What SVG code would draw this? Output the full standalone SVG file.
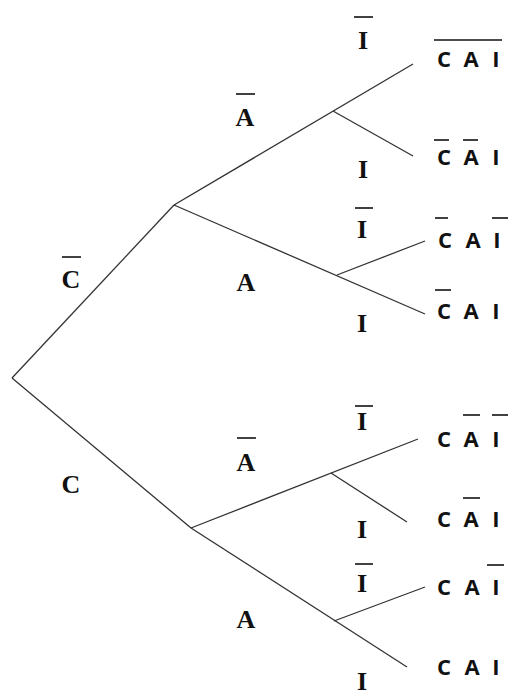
<svg xmlns="http://www.w3.org/2000/svg" width="512" height="700" viewBox="0 0 512 700">
<style>
.edge{stroke:#333;stroke-width:1.3;fill:none}
.bar{stroke:#111;stroke-width:1.6}
.lbl{font-family:"Liberation Serif","Times New Roman",serif;font-weight:bold;font-size:26px;fill:#111;text-anchor:middle}
.out{font-family:"Open Sans","Liberation Sans",sans-serif;font-weight:bold;font-size:22px;fill:#111;text-anchor:middle}
</style>
<rect width="512" height="700" fill="#fff"/>
<g id="connectors">
<line class="edge" x1="12" y1="378" x2="174" y2="205"/>
<line class="edge" x1="12" y1="378" x2="191" y2="528"/>
<line class="edge" x1="174" y1="205" x2="413" y2="64"/>
<line class="edge" x1="333" y1="111" x2="413" y2="156"/>
<line class="edge" x1="174" y1="205" x2="425" y2="314"/>
<line class="edge" x1="337" y1="275" x2="425" y2="241"/>
<line class="edge" x1="191" y1="528" x2="418" y2="439"/>
<line class="edge" x1="331" y1="473" x2="407" y2="522"/>
<line class="edge" x1="191" y1="528" x2="407" y2="667"/>
<line class="edge" x1="334" y1="621" x2="425" y2="587"/>
</g>
<g id="label-Cbar"><text class="lbl" x="71" y="288">C</text><line class="bar" x1="62" y1="257" x2="81" y2="257"/></g>
<g id="label-C"><text class="lbl" x="71" y="493">C</text></g>
<g id="label-Abar-1"><text class="lbl" x="245" y="126">A</text><line class="bar" x1="236" y1="94" x2="255" y2="94"/></g>
<g id="label-A-1"><text class="lbl" x="246" y="291">A</text></g>
<g id="label-Abar-2"><text class="lbl" x="246" y="471">A</text><line class="bar" x1="237" y1="438" x2="256" y2="438"/></g>
<g id="label-A-2"><text class="lbl" x="246" y="628">A</text></g>
<g id="label-Ibar-1"><text class="lbl" x="363" y="49">I</text><line class="bar" x1="354" y1="17" x2="373" y2="17"/></g>
<g id="label-I-1"><text class="lbl" x="363" y="178">I</text></g>
<g id="label-Ibar-2"><text class="lbl" x="362" y="238">I</text><line class="bar" x1="355" y1="208" x2="373" y2="208"/></g>
<g id="label-I-2"><text class="lbl" x="362" y="332">I</text></g>
<g id="label-Ibar-3"><text class="lbl" x="362" y="430">I</text><line class="bar" x1="355" y1="406" x2="373" y2="406"/></g>
<g id="label-I-3"><text class="lbl" x="362" y="538">I</text></g>
<g id="label-Ibar-4"><text class="lbl" x="362" y="592">I</text><line class="bar" x1="355" y1="564" x2="373" y2="564"/></g>
<g id="label-I-4"><text class="lbl" x="362" y="690">I</text></g>
<g id="out-1"><text class="out" y="67"><tspan x="444">C</tspan><tspan x="471">A</tspan><tspan x="496">I</tspan></text><line class="bar" x1="434" y1="40" x2="502" y2="40"/></g>
<g id="out-2"><text class="out" y="165"><tspan x="444">C</tspan><tspan x="471">A</tspan><tspan x="496">I</tspan></text><line class="bar" x1="434" y1="140" x2="449" y2="140"/><line class="bar" x1="463" y1="140" x2="478" y2="140"/></g>
<g id="out-3"><text class="out" y="248"><tspan x="445">C</tspan><tspan x="473">A</tspan><tspan x="497">I</tspan></text><line class="bar" x1="435" y1="218" x2="448" y2="218"/><line class="bar" x1="492" y1="218" x2="508" y2="218"/></g>
<g id="out-4"><text class="out" y="319"><tspan x="444">C</tspan><tspan x="471">A</tspan><tspan x="496">I</tspan></text><line class="bar" x1="435" y1="290" x2="451" y2="290"/></g>
<g id="out-5"><text class="out" y="447"><tspan x="444">C</tspan><tspan x="471">A</tspan><tspan x="496">I</tspan></text><line class="bar" x1="463" y1="415" x2="480" y2="415"/><line class="bar" x1="492" y1="415" x2="508" y2="415"/></g>
<g id="out-6"><text class="out" y="527"><tspan x="444">C</tspan><tspan x="471">A</tspan><tspan x="496">I</tspan></text><line class="bar" x1="463" y1="498" x2="480" y2="498"/></g>
<g id="out-7"><text class="out" y="595"><tspan x="444">C</tspan><tspan x="472">A</tspan><tspan x="496">I</tspan></text><line class="bar" x1="487" y1="565" x2="504" y2="565"/></g>
<g id="out-8"><text class="out" y="675"><tspan x="444">C</tspan><tspan x="472">A</tspan><tspan x="496">I</tspan></text></g>
</svg>
